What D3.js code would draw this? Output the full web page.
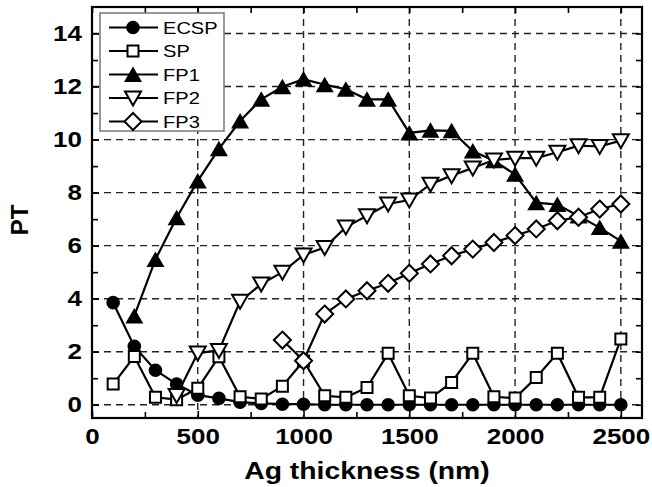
<!DOCTYPE html>
<html>
<head>
<meta charset="utf-8">
<script src="https://cdn.jsdelivr.net/npm/d3@7"></script>
<style>
  html, body { margin: 0; padding: 0; background: #fff; }
  svg text { font-family: "Liberation Sans", Arial, sans-serif; fill: #000; }
</style>
</head>
<body>
<svg id="chart" width="652" height="487"></svg>
<script>
// Ag thickness (nm) for each series
const ecspX = [100, 200, 300, 400, 500, 600, 700, 800, 900, 1000, 1100, 1200, 1300, 1400, 1500, 1600, 1700, 1800, 1900, 2000, 2100, 2200, 2300, 2400, 2500]
const spX = ecspX
const fp1X = [200, 300, 400, 500, 600, 700, 800, 900, 1000, 1100, 1200, 1300, 1400, 1500, 1600, 1700, 1800, 1900, 2000, 2100, 2200, 2300, 2400, 2500]
const fp2X = [400, 500, 600, 700, 800, 900, 1000, 1100, 1200, 1300, 1400, 1500, 1600, 1700, 1800, 1900, 2000, 2100, 2200, 2300, 2400, 2500]
const fp3X = [900, 1000, 1100, 1200, 1300, 1400, 1500, 1600, 1700, 1800, 1900, 2000, 2100, 2200, 2300, 2400, 2500]

// PT values
const ecspY = [3.85, 2.2, 1.3, 0.78, 0.36, 0.24, 0.1, 0.05, 0.02, 0.02, 0, 0, 0, 0, 0, 0, 0, 0, 0, 0, 0, 0, 0, 0, 0]
const spY = [0.78, 1.82, 0.28, 0.19, 0.62, 1.81, 0.3, 0.22, 0.7, 1.65, 0.34, 0.28, 0.65, 1.94, 0.34, 0.25, 0.84, 1.94, 0.3, 0.25, 1.03, 1.94, 0.28, 0.28, 2.48]
const fp1Y = [3.35, 5.48, 7.05, 8.44, 9.65, 10.7, 11.52, 11.99, 12.28, 12.07, 11.9, 11.52, 11.52, 10.25, 10.35, 10.33, 9.57, 9.2, 8.69, 7.62, 7.55, 7.12, 6.68, 6.17]
const fp2Y = [0.35, 1.95, 2.05, 3.9, 4.55, 5.0, 5.65, 5.93, 6.7, 7.13, 7.57, 7.72, 8.32, 8.64, 8.93, 9.23, 9.3, 9.3, 9.52, 9.77, 9.74, 9.96]
const fp3Y = [2.44, 1.66, 3.42, 3.99, 4.3, 4.58, 4.96, 5.31, 5.62, 5.87, 6.12, 6.38, 6.63, 6.94, 7.07, 7.38, 7.57]

const seriesNames = ["ECSP", "SP", "FP1", "FP2", "FP3"]

const xTicks = [0, 500, 1000, 1500, 2000, 2500]
const xMinor = [250, 750, 1250, 1750, 2250]
const yTicks = [0, 2, 4, 6, 8, 10, 12, 14]
const yMinor = [1, 3, 5, 7, 9, 11, 13]

const xTitle = "Ag thickness (nm)"
const yTitle = "PT"

const series = [
    { name: seriesNames[0], xs: ecspX, ys: ecspY, symbol: "circle" },
    { name: seriesNames[1], xs: spX, ys: spY, symbol: "square" },
    { name: seriesNames[2], xs: fp1X, ys: fp1Y, symbol: "up" },
    { name: seriesNames[3], xs: fp2X, ys: fp2Y, symbol: "down" },
    { name: seriesNames[4], xs: fp3X, ys: fp3Y, symbol: "diamond" },
]

const margin = { left: 92, top: 7, right: 10, bottom: 69 }
const W = 652, H = 487
const pw = W - margin.left - margin.right
const ph = H - margin.top - margin.bottom
const stretch = 1.18 // the picture is a little wide in x, so text is too

const svg = d3.select("#chart")
const g = svg.append("g").attr("transform", `translate(${margin.left},${margin.top})`)

const x = d3.scaleLinear().domain([0, 2600]).range([0, pw])
const y = d3.scaleLinear().domain([-0.5, 15]).range([ph, 0])

// dashed grid
g.append("g").selectAll("line").data(xTicks.filter(d => d > 0)).enter().append("line")
    .attr("x1", d => x(d)).attr("x2", d => x(d)).attr("y1", 0).attr("y2", ph)
    .attr("stroke", "#222").attr("stroke-width", 1.4).attr("stroke-dasharray", "7,5")
g.append("g").selectAll("line").data(yTicks).enter().append("line")
    .attr("x1", 0).attr("x2", pw).attr("y1", d => y(d)).attr("y2", d => y(d))
    .attr("stroke", "#222").attr("stroke-width", 1.4).attr("stroke-dasharray", "7,5")

// axes, ticks inward
function styleAxis(sel) {
    sel.select(".domain").remove()
    sel.selectAll(".tick line").attr("stroke", "#000").attr("stroke-width", 1.6)
    sel.selectAll("text").attr("font-size", 22).attr("font-weight", "bold")
}
g.append("g").attr("class", "xaxis").attr("transform", `translate(0,${ph})`)
    .call(d3.axisBottom(x).tickValues(xTicks).tickFormat(d3.format("d")).tickSizeInner(-7).tickSizeOuter(0).tickPadding(10))
    .call(styleAxis)
g.append("g").attr("transform", `translate(0,${ph})`)
    .call(d3.axisBottom(x).tickValues(xMinor).tickSizeInner(-6).tickSizeOuter(0).tickFormat(""))
    .call(styleAxis)
g.append("g").attr("class", "yaxis")
    .call(d3.axisLeft(y).tickValues(yTicks).tickFormat(d3.format("d")).tickSizeInner(-7).tickSizeOuter(0).tickPadding(10))
    .call(styleAxis)
g.append("g")
    .call(d3.axisLeft(y).tickValues(yMinor).tickSizeInner(-6).tickSizeOuter(0).tickFormat(""))
    .call(styleAxis)
g.append("g")
    .call(d3.axisTop(x).tickValues(xTicks.concat(xMinor)).tickSizeInner(-6).tickSizeOuter(0).tickFormat(""))
    .call(styleAxis)
g.append("g").attr("transform", `translate(${pw},0)`)
    .call(d3.axisRight(y).tickValues(yTicks.concat(yMinor)).tickSizeInner(-6).tickSizeOuter(0).tickFormat(""))
    .call(styleAxis)

// frame
g.append("rect").attr("x", 0).attr("y", 0).attr("width", pw).attr("height", ph)
    .attr("fill", "none").attr("stroke", "#000").attr("stroke-width", 2.2)

// symbol paths centred at 0,0
function symbolPath(kind) {
    if (kind === "circle") return "M-6.8,0A6.8,6.8 0 1,0 6.8,0A6.8,6.8 0 1,0 -6.8,0Z"
    if (kind === "square") return "M-5.5,-5.5H5.5V5.5H-5.5Z"
    if (kind === "up") return "M0,-8L9,7.5H-9Z"
    if (kind === "down") return "M-8,-6.5H8L0,7.5Z"
    return "M0,-8.5L8.5,0L0,8.5L-8.5,0Z"
}
const filled = { circle: true, up: true }

const line = d3.line().x(d => x(d[0])).y(d => y(d[1]))

series.forEach(s => {
    const pts = s.xs.map((v, i) => [v, s.ys[i]])
    const sg = g.append("g")
    sg.append("path").datum(pts).attr("d", line)
        .attr("fill", "none").attr("stroke", "#000").attr("stroke-width", 2.2)
    sg.selectAll(".pt").data(pts).enter().append("path")
        .attr("transform", d => `translate(${x(d[0])},${y(d[1])})`)
        .attr("d", symbolPath(s.symbol))
        .attr("fill", filled[s.symbol] ? "#000" : "#fff")
        .attr("stroke", "#000").attr("stroke-width", filled[s.symbol] ? 0 : 2)
})

// legend
const lg = svg.append("g").attr("transform", "translate(100,13)")
lg.append("rect").attr("width", 124).attr("height", 118)
    .attr("fill", "#fff").attr("stroke", "#777").attr("stroke-width", 1.5)
series.forEach((s, i) => {
    const ly = 14.5 + i * 23.5
    lg.append("line").attr("x1", 9).attr("x2", 58).attr("y1", ly).attr("y2", ly)
        .attr("stroke", "#000").attr("stroke-width", 2.2)
    lg.append("path").attr("transform", `translate(33,${ly})`).attr("d", symbolPath(s.symbol))
        .attr("fill", filled[s.symbol] ? "#000" : "#fff")
        .attr("stroke", "#000").attr("stroke-width", filled[s.symbol] ? 0 : 2)
    lg.append("text").attr("class", "wide").attr("x", 63).attr("y", ly + 6)
        .attr("font-size", 17).text(s.name)
})

// axis titles
svg.append("text").attr("class", "wide")
    .attr("x", margin.left + x(1300)).attr("y", 479)
    .attr("text-anchor", "middle").attr("font-size", 24).attr("font-weight", "bold")
    .text(xTitle)
svg.append("text")
    .attr("transform", "translate(28,220) rotate(-90)")
    .attr("text-anchor", "middle").attr("font-size", 24).attr("font-weight", "bold")
    .text(yTitle)

// widen tick labels and titles to match the stretched look
svg.selectAll(".xaxis text, .yaxis text, text.wide").each(function () {
    const len = this.getComputedTextLength()
    d3.select(this).attr("textLength", len * stretch).attr("lengthAdjust", "spacingAndGlyphs")
})
</script>
</body>
</html>
